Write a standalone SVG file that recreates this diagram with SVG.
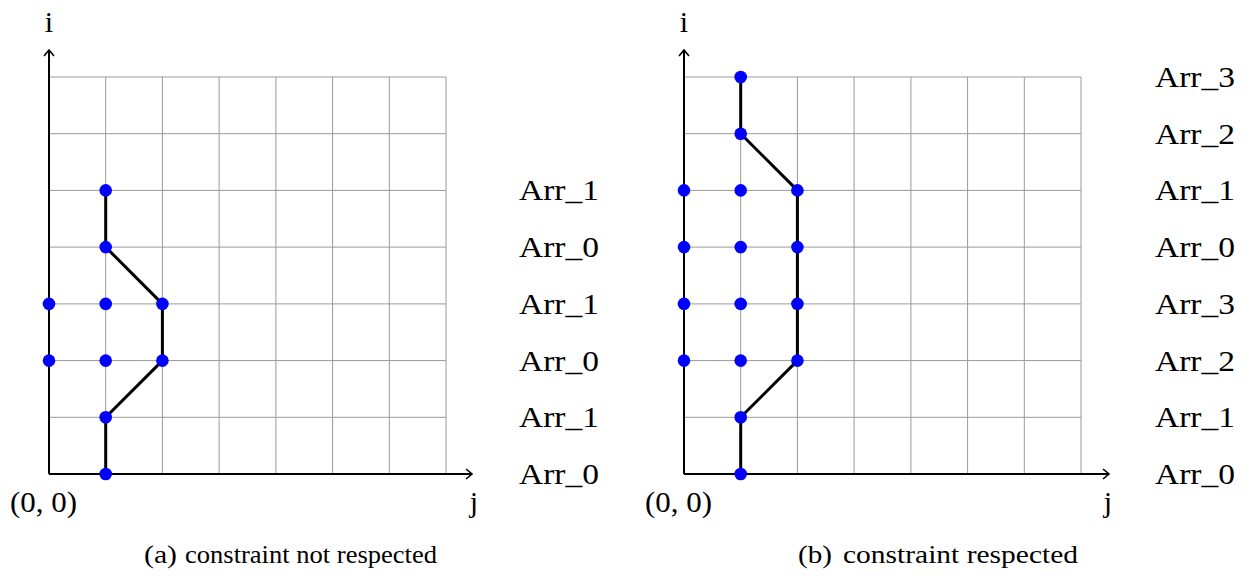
<svg xmlns="http://www.w3.org/2000/svg" width="1250" height="578" viewBox="0 0 1250 578">
<style>
.grid{stroke:#999;stroke-width:1;fill:none}
.axis{stroke:#000;stroke-width:2;fill:none;marker-end:url(#arr)}
.path{stroke:#000;stroke-width:3;fill:none;stroke-linejoin:round}
.dot{fill:#0000ff}
text{font-family:"Liberation Serif","Times New Roman",serif;fill:#000}
.lbl{font-size:30px}
.cap{font-size:26px}
</style>
<defs>
<marker id="arr" markerWidth="12" markerHeight="12" refX="9" refY="6" orient="auto" markerUnits="userSpaceOnUse">
<path d="M3,1 L9,6 L3,11" fill="none" stroke="#000" stroke-width="1.6"/>
</marker>
</defs>
<g id="panel-a">
<g id="grid-a" class="grid">
<path d="M49,77H446M49,133.7H446M49,190.4H446M49,247.1H446M49,303.9H446M49,360.6H446M49,417.3H446"/>
<path d="M105.7,77V474M162.4,77V474M219.1,77V474M275.9,77V474M332.6,77V474M389.3,77V474M446,77V474"/>
</g>
<g id="axes-a">
<line class="axis" x1="49" y1="474" x2="49" y2="50"/>
<line class="axis" x1="49" y1="474" x2="472" y2="474"/>
<text class="lbl" x="49" y="32" text-anchor="middle">i</text>
<text class="lbl" x="474" y="512" text-anchor="middle">j</text>
<text class="lbl" x="10" y="512" textLength="67" lengthAdjust="spacingAndGlyphs">(0, 0)</text>
</g>
<g id="connectors-a">
<polyline class="path" points="105.7,474 105.7,417.3 162.4,360.6 162.4,303.9 105.7,247.1 105.7,190.4"/>
</g>
<g id="nodes-a" class="dot">
<circle cx="105.7" cy="474" r="6.3"/>
<circle cx="105.7" cy="417.3" r="6.3"/>
<circle cx="49" cy="360.6" r="6.3"/>
<circle cx="105.7" cy="360.6" r="6.3"/>
<circle cx="162.4" cy="360.6" r="6.3"/>
<circle cx="49" cy="303.9" r="6.3"/>
<circle cx="105.7" cy="303.9" r="6.3"/>
<circle cx="162.4" cy="303.9" r="6.3"/>
<circle cx="105.7" cy="247.1" r="6.3"/>
<circle cx="105.7" cy="190.4" r="6.3"/>
</g>
<g id="labels-a" class="lbl">
<text x="519" y="484" textLength="80" lengthAdjust="spacingAndGlyphs">Arr_0</text>
<text x="519" y="427" textLength="80" lengthAdjust="spacingAndGlyphs">Arr_1</text>
<text x="519" y="371" textLength="80" lengthAdjust="spacingAndGlyphs">Arr_0</text>
<text x="519" y="314" textLength="80" lengthAdjust="spacingAndGlyphs">Arr_1</text>
<text x="519" y="257" textLength="80" lengthAdjust="spacingAndGlyphs">Arr_0</text>
<text x="519" y="200" textLength="80" lengthAdjust="spacingAndGlyphs">Arr_1</text>
</g>
<g id="caption-a" class="cap">
<text x="144" y="563" textLength="33" lengthAdjust="spacingAndGlyphs">(a)</text>
<text x="185" y="563" textLength="252" lengthAdjust="spacingAndGlyphs">constraint not respected</text>
</g>
</g>
<g id="panel-b">
<g id="grid-b" class="grid">
<path d="M684,77H1081M684,133.7H1081M684,190.4H1081M684,247.1H1081M684,303.9H1081M684,360.6H1081M684,417.3H1081"/>
<path d="M740.7,77V474M797.4,77V474M854.1,77V474M910.9,77V474M967.6,77V474M1024.3,77V474M1081,77V474"/>
</g>
<g id="axes-b">
<line class="axis" x1="684" y1="474" x2="684" y2="50"/>
<line class="axis" x1="684" y1="474" x2="1109" y2="474"/>
<text class="lbl" x="684" y="32" text-anchor="middle">i</text>
<text class="lbl" x="1108" y="512" text-anchor="middle">j</text>
<text class="lbl" x="645" y="512" textLength="67" lengthAdjust="spacingAndGlyphs">(0, 0)</text>
</g>
<g id="connectors-b">
<polyline class="path" points="740.7,474 740.7,417.3 797.4,360.6 797.4,190.4 740.7,133.7 740.7,77"/>
</g>
<g id="nodes-b" class="dot">
<circle cx="740.7" cy="474" r="6.3"/>
<circle cx="740.7" cy="417.3" r="6.3"/>
<circle cx="684" cy="360.6" r="6.3"/>
<circle cx="740.7" cy="360.6" r="6.3"/>
<circle cx="797.4" cy="360.6" r="6.3"/>
<circle cx="684" cy="303.9" r="6.3"/>
<circle cx="740.7" cy="303.9" r="6.3"/>
<circle cx="797.4" cy="303.9" r="6.3"/>
<circle cx="684" cy="247.1" r="6.3"/>
<circle cx="740.7" cy="247.1" r="6.3"/>
<circle cx="797.4" cy="247.1" r="6.3"/>
<circle cx="684" cy="190.4" r="6.3"/>
<circle cx="740.7" cy="190.4" r="6.3"/>
<circle cx="797.4" cy="190.4" r="6.3"/>
<circle cx="740.7" cy="133.7" r="6.3"/>
<circle cx="740.7" cy="77" r="6.3"/>
</g>
<g id="labels-b" class="lbl">
<text x="1155" y="484" textLength="80" lengthAdjust="spacingAndGlyphs">Arr_0</text>
<text x="1155" y="427" textLength="80" lengthAdjust="spacingAndGlyphs">Arr_1</text>
<text x="1155" y="371" textLength="80" lengthAdjust="spacingAndGlyphs">Arr_2</text>
<text x="1155" y="314" textLength="80" lengthAdjust="spacingAndGlyphs">Arr_3</text>
<text x="1155" y="257" textLength="80" lengthAdjust="spacingAndGlyphs">Arr_0</text>
<text x="1155" y="200" textLength="80" lengthAdjust="spacingAndGlyphs">Arr_1</text>
<text x="1155" y="144" textLength="80" lengthAdjust="spacingAndGlyphs">Arr_2</text>
<text x="1155" y="87" textLength="80" lengthAdjust="spacingAndGlyphs">Arr_3</text>
</g>
<g id="caption-b" class="cap">
<text x="798" y="563" textLength="34" lengthAdjust="spacingAndGlyphs">(b)</text>
<text x="843" y="563" textLength="235" lengthAdjust="spacingAndGlyphs">constraint respected</text>
</g>
</g>
</svg>
